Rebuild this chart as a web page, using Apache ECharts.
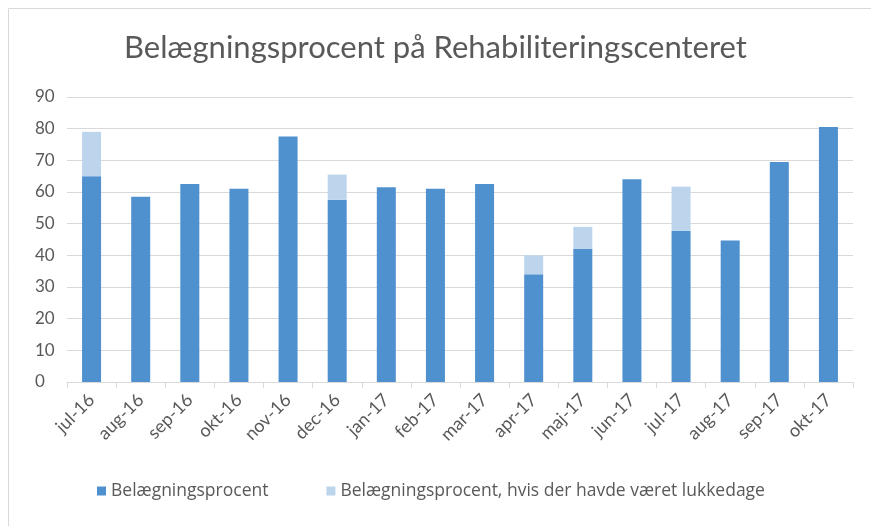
<!DOCTYPE html>
<html>
<head>
<meta charset="utf-8">
<script src="https://cdn.jsdelivr.net/npm/echarts@6/dist/echarts.min.js"></script>
<style>
  html, body { margin: 0; padding: 0; background: #fff; }
  #chart { width: 871px; height: 526px; }
</style>
</head>
<body>
<div id="chart"></div>
<script>
const months = ['jul-16', 'aug-16', 'sep-16', 'okt-16', 'nov-16', 'dec-16', 'jan-17', 'feb-17',
  'mar-17', 'apr-17', 'maj-17', 'jun-17', 'jul-17', 'aug-17', 'sep-17', 'okt-17']

// actual occupancy
const occupancy = [65, 58.5, 62.5, 61, 77.5, 57.5, 61.5, 61, 62.5, 34, 42, 64, 47.7, 44.7, 69.5, 80.5]
// extra on top if there had been closing days
const withClosing = [14, 0, 0, 0, 0, 8, 0, 0, 0, 6, 7, 0, 14, 0, 0, 0]

const yTicks = [0, 10, 20, 30, 40, 50, 60, 70, 80, 90]

const textColor = '#595959'
const font = 'Lato, "Open Sans", sans-serif'

const chart = echarts.init(document.getElementById('chart'), null, { renderer: 'canvas' })

chart.setOption({
  animation: false,
  backgroundColor: '#fff',
  graphic: [{
    type: 'rect',
    shape: { x: 8.5, y: 8.5, width: 880, height: 540 },
    style: { fill: 'none', stroke: '#d9d9d9', lineWidth: 1 },
    silent: true
  }],
  title: {
    text: 'Belægningsprocent på Rehabiliteringscenteret',
    left: 'center',
    top: 27,
    textStyle: { fontFamily: font, fontSize: 31, fontWeight: 'normal', color: textColor }
  },
  grid: { left: 67, right: 18, top: 97, bottom: 144 },
  legend: {
    bottom: 21,
    left: 92,
    itemWidth: 9,
    itemHeight: 9,
    itemGap: 58,
    icon: 'rect',
    textStyle: { fontFamily: '"Open Sans", sans-serif', fontSize: 17.5, color: textColor },
    data: ['Belægningsprocent', 'Belægningsprocent, hvis der havde været lukkedage']
  },
  xAxis: {
    type: 'category',
    data: months,
    axisLine: { lineStyle: { color: '#d9d9d9' } },
    axisTick: { show: true, length: 6, lineStyle: { color: '#d9d9d9' } },
    axisLabel: {
      rotate: 45,
      margin: 15,
      fontFamily: font,
      fontSize: 18,
      color: textColor,
      interval: 0
    }
  },
  yAxis: {
    type: 'value',
    min: yTicks[0],
    max: yTicks[yTicks.length - 1],
    interval: 10,
    axisLine: { show: false },
    axisTick: { show: false },
    splitLine: { lineStyle: { color: '#d9d9d9' } },
    axisLabel: { fontFamily: font, fontSize: 17, color: textColor, margin: 32, align: 'left' }
  },
  series: [
    {
      name: 'Belægningsprocent',
      type: 'bar',
      stack: 'total',
      barWidth: 19,
      itemStyle: { color: '#4f90cf' },
      data: occupancy
    },
    {
      name: 'Belægningsprocent, hvis der havde været lukkedage',
      type: 'bar',
      stack: 'total',
      barWidth: 19,
      itemStyle: { color: '#bcd5ec' },
      data: withClosing
    }
  ]
})
</script>
</body>
</html>
